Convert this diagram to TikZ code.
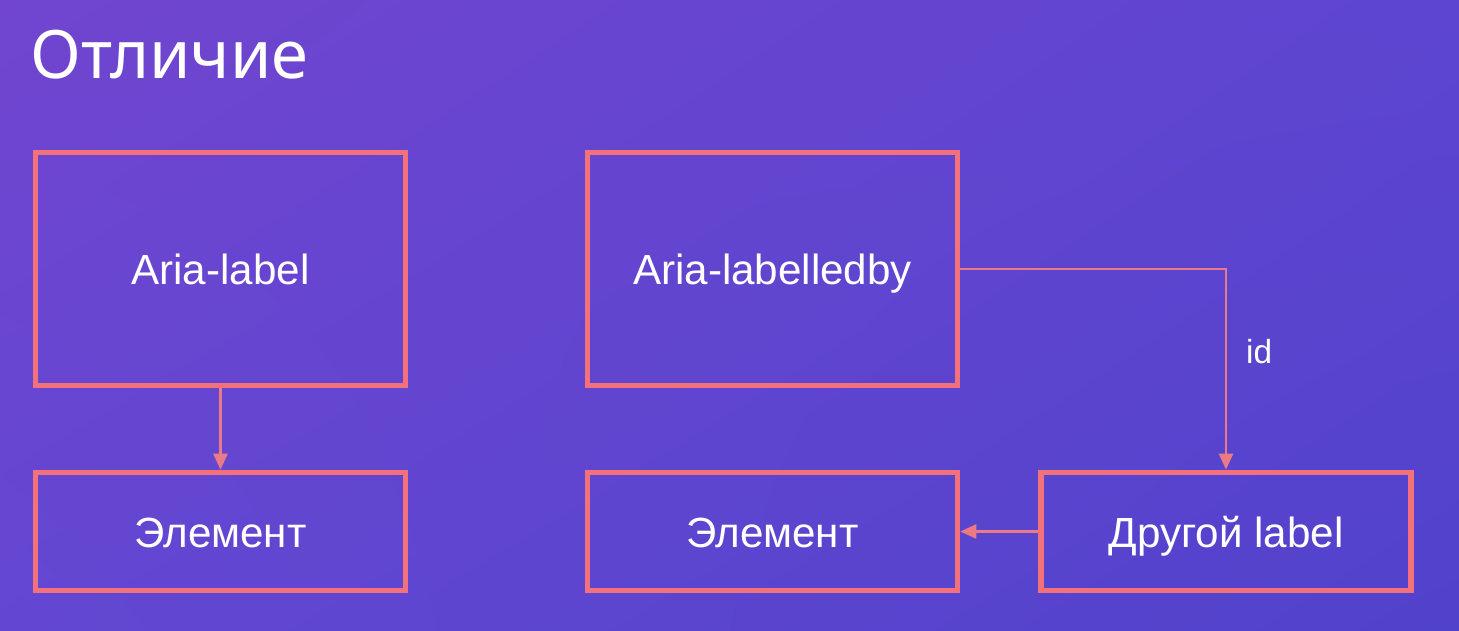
\documentclass[tikz,border=0pt]{standalone}
\usepackage{fontspec}
\setmainfont{Liberation Sans}
\newfontfamily\titlefont{Noto Sans}
\usetikzlibrary{arrows.meta,shadings}
\definecolor{bgul}{HTML}{7145CF}
\definecolor{bgur}{HTML}{5D45D1}
\definecolor{bgll}{HTML}{6347D2}
\definecolor{bglr}{HTML}{5142CB}
\definecolor{boxline}{HTML}{F2717A}
\definecolor{arrline}{HTML}{EC7A86}
\begin{document}
\begin{tikzpicture}
						\tikzstyle{box}=[rectangle,draw=boxline,line width=3.2pt,minimum width=7.4cm,text=white,text height=0.62cm,text depth=0cm,font=\fontsize{24}{28}\selectfont]
						\tikzstyle{bigbox}=[box,minimum height=4.66cm]
						\tikzstyle{smallbox}=[box,minimum height=2.36cm]
						\tikzstyle{link}=[draw=arrline,line width=1.4pt,-{Triangle[length=0.32cm,width=0.28cm]}]
						\shade[upper left=bgul,upper right=bgur,lower left=bgll,lower right=bglr] (0,0) rectangle (29.18,-12.62);
						\useasboundingbox (0,0) rectangle (29.18,-12.62);
						\node[anchor=base west,text=white,font=\titlefont\fontsize{38}{42}\selectfont,inner sep=0pt] (title) at (0.6,-1.58) {Отличие};
						\node[bigbox] (ariaLabel) at (4.41,-5.38) {Aria-label};
						\node[smallbox] (elemLeft) at (4.41,-10.63) {Элемент};
						\node[bigbox] (ariaLabelledby) at (15.45,-5.38) {Aria-labelledby};
						\node[smallbox] (elemMid) at (15.45,-10.63) {Элемент};
						\node[smallbox] (otherLabel) at (24.52,-10.63) {Другой label};
						\draw[link] (ariaLabel) -- (elemLeft);
						\draw[link] (ariaLabelledby.east) -| node[pos=0.706,right=0.38cm,text=white,font=\fontsize{19}{22}\selectfont,inner sep=0pt] (idText) {id} (otherLabel.north);
						\draw[link] (otherLabel) -- (elemMid);
						\end{tikzpicture}
\end{document}
